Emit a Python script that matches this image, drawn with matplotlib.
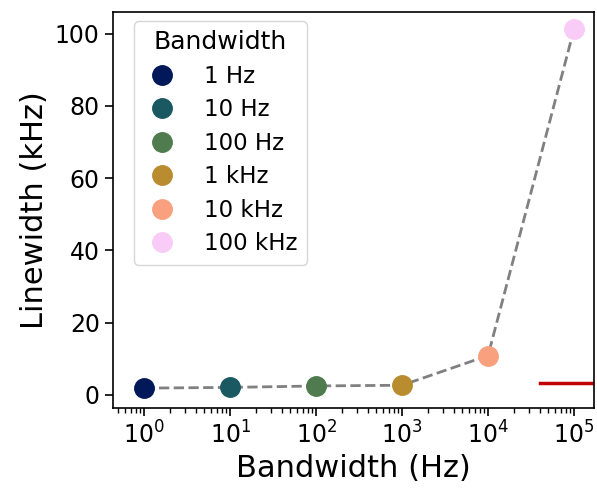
import numpy as np
import matplotlib.pyplot as plt
from matplotlib.ticker import LogLocator, NullFormatter

# measured linewidth vs. analysis bandwidth
bandwidth_hz = [1, 10, 100, 1e3, 1e4, 1e5]
linewidth_khz = [1.9, 2.1, 2.5, 2.7, 10.9, 101.2]
labels = ["1 Hz", "10 Hz", "100 Hz", "1 kHz", "10 kHz", "100 kHz"]
colors = ["#011959", "#1a5862", "#4f7b4e", "#b88c2f", "#f9a07f", "#f9ccf7"]

ref_x = [10**4.6, 10**5.4]
ref_y = [3.4, 3.4]

fig = plt.figure(figsize=(5.97, 4.88), dpi=100)
ax = fig.add_axes([113 / 597, 80 / 488, 481 / 597, 396 / 488])

ax.plot(bandwidth_hz, linewidth_khz, "--", color="gray", lw=2, zorder=1)
for x, y, c, lab in zip(bandwidth_hz, linewidth_khz, colors, labels):
    ax.plot(x, y, "o", color=c, ms=14, label=lab, zorder=2)
ax.plot(ref_x, ref_y, color="#c00000", lw=2.5, zorder=1)

ax.set_xscale("log")
ax.set_xlim(10**-0.364, 10**5.233)
ax.set_xticks(bandwidth_hz)
ax.xaxis.set_minor_locator(LogLocator(base=10, subs=np.arange(2, 10), numticks=20))
ax.xaxis.set_minor_formatter(NullFormatter())
ax.set_ylim(-3.6, 106)
ax.set_yticks([0, 20, 40, 60, 80, 100])
ax.tick_params(labelsize=17, length=6, width=1.2)
ax.tick_params(which="minor", length=3.5, width=1)
ax.set_xlabel("Bandwidth (Hz)", fontsize=22)
ax.set_ylabel("Linewidth (kHz)", fontsize=22)
for s in ax.spines.values():
    s.set_linewidth(1.2)

ax.legend(title="Bandwidth", loc="upper left", fontsize=16.5, title_fontsize=18,
          handlelength=1.6, handletextpad=1.05, labelspacing=0.46, borderaxespad=0,
          bbox_to_anchor=(21 / 481, 1 - 9 / 396))

fig.savefig("out.png", dpi=100)
